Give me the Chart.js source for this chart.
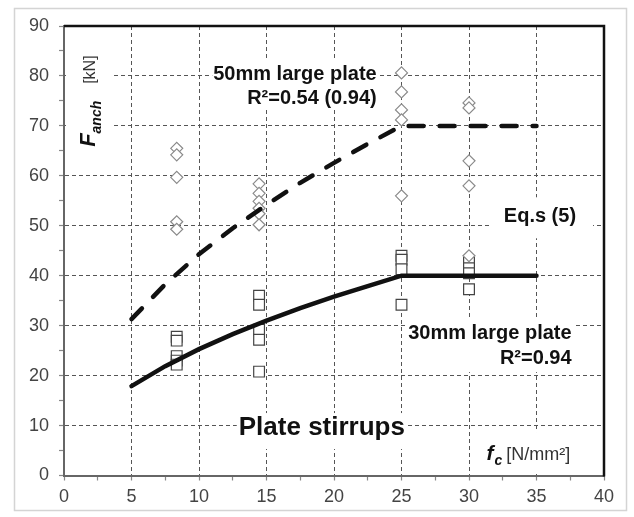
<!DOCTYPE html>
<html><head><meta charset="utf-8">
<script src="https://cdn.jsdelivr.net/npm/chart.js@4/dist/chart.umd.min.js"></script>
<style>html,body{margin:0;padding:0;background:#fff;}#wrap{width:634px;height:517px;}</style>
</head><body><div id="wrap"><canvas id="c" width="634" height="517"></canvas></div>
<script>
// ---- data ----
const plate50X = [8.35,8.35,8.35,8.35,8.35, 14.45,14.45,14.45,14.45,14.45,14.45, 25,25,25,25,25, 30,30,30,30,30];
const plate50F = [65.5,64.2,59.7,50.8,49.3, 58.4,56.5,54.9,53.5,52.4,50.2, 80.6,76.8,73.2,71.2,56.0, 74.6,73.6,63.0,58.0,44.0];
const plate30X = [8.35,8.35,8.35,8.35,8.35, 14.45,14.45,14.45,14.45,14.45, 25,25,25,25, 30,30,30,30];
const plate30F = [27.8,27.0,23.9,23.0,22.2, 36.0,34.2,29.2,27.2,20.8, 44.0,43.2,41.3,34.2, 42.6,41.5,40.5,37.3];
const eqX   = [5,7.5,10,12.5,15,17.5,20,22.5,25,35];
const eq50F = [31.3,38.3,44.3,49.5,54.2,58.6,62.6,66.4,70,70];
const eq30F = [17.9,21.9,25.3,28.3,31.0,33.5,35.8,37.9,40,40];
const xTickLabels = [0,5,10,15,20,25,30,35,40];
const yTickLabels = [0,10,20,30,40,50,60,70,80,90];

const FONT = "'Liberation Sans', Arial, Helvetica, sans-serif";
const pts = (xs, ys) => xs.map((v, i) => ({x: v, y: ys[i]}));

function box(ctx, x, y, w, h) { ctx.fillStyle = '#fff'; ctx.fillRect(x, y, w, h); }

const framePlugin = {
  id: 'frame',
  beforeDraw(chart) {
    const ctx = chart.ctx;
    ctx.save();
    ctx.fillStyle = '#fff';
    ctx.fillRect(0, 0, chart.width, chart.height);
    ctx.strokeStyle = '#d4d4d4';
    ctx.lineWidth = 1.5;
    ctx.strokeRect(14.5, 8.5, 612, 502);
    ctx.restore();
  },
  afterDraw(chart) {
    const {ctx, chartArea: a} = chart;
    ctx.save();
    ctx.strokeStyle = '#111';
    ctx.lineWidth = 2.5;
    ctx.beginPath();
    ctx.moveTo(a.left, a.top);
    ctx.lineTo(a.right, a.top);
    ctx.lineTo(a.right, a.bottom + 1);
    ctx.stroke();
    ctx.restore();
  }
};

const labelPlugin = {
  id: 'labels',
  beforeDatasetsDraw(chart) {
    const {ctx, scales: {x: xs, y: ys}} = chart;
    const X = v => xs.getPixelForValue(v), Y = v => ys.getPixelForValue(v);
    ctx.save();
    ctx.textBaseline = 'alphabetic';
    const bold20 = 'bold 20px ' + FONT;

    // right-aligned two-line block
    function block(lines, xv, pad) {
      ctx.font = bold20;
      let maxW = 0;
      lines.forEach(l => { l.w = ctx.measureText(l.t).width; maxW = Math.max(maxW, l.w); });
      const xr = X(xv);
      const y0 = Y(lines[0].y), y1 = Y(lines[lines.length - 1].y);
      box(ctx, xr - maxW - pad[3], y0 - pad[0], maxW + pad[1] + pad[3], y1 - y0 + pad[0] + pad[2]);
      ctx.fillStyle = '#111';
      ctx.textAlign = 'right';
      lines.forEach(l => ctx.fillText(l.t, xr, Y(l.y)));
    }
    block([{t: '50mm large plate', y: 79.1}, {t: 'R²=0.54 (0.94)', y: 74.4}], 23.16, [22, 1, 6, 1]);
    block([{t: 'Eq.s (5)', y: 50.7}], 37.93, [25, 17, 16, 12]);
    block([{t: '30mm large plate', y: 27.3}, {t: 'R²=0.94', y: 22.3}], 37.6, [21, 2, 8, 2]);

    // Plate stirrups
    ctx.font = 'bold 26px ' + FONT;
    ctx.textAlign = 'center';
    const ps = 'Plate stirrups', psw = ctx.measureText(ps).width;
    const px = X(19.1), py = Y(8.1);
    box(ctx, px - psw / 2 - 2, py - 22, psw + 4, 36);
    ctx.fillStyle = '#111';
    ctx.fillText(ps, px, py);

    // f_c [N/mm²]
    ctx.textAlign = 'left';
    const fx = X(31.3), fy = Y(3.1);
    box(ctx, fx - 7, fy - 28, 120, 42);
    ctx.fillStyle = '#111';
    ctx.font = 'bold italic 21px ' + FONT;
    ctx.fillText('f', fx, fy);
    let w = ctx.measureText('f').width;
    ctx.font = 'bold italic 14px ' + FONT;
    ctx.fillText('c', fx + w + 1, fy + 5);
    w += ctx.measureText('c').width + 5;
    ctx.fillStyle = '#333';
    ctx.font = '18px ' + FONT;
    ctx.fillText('[N/mm²]', fx + w, fy);

    // F_anch [kN], rotated
    const ax = X(2.3), ay = Y(65.8);
    box(ctx, X(0) + 2, Y(85), ax + 17 - X(0) - 2, Y(65) - Y(85));
    ctx.translate(ax, ay);
    ctx.rotate(-Math.PI / 2);
    ctx.fillStyle = '#111';
    ctx.font = 'bold italic 22px ' + FONT;
    ctx.fillText('F', 0, 0);
    const wF = ctx.measureText('F').width;
    ctx.font = 'bold italic 14px ' + FONT;
    ctx.fillText('anch', wF, 6);
    ctx.fillStyle = '#333';
    ctx.font = '16px ' + FONT;
    ctx.fillText('[kN]', 63, 0);
    ctx.restore();
  }
};

const gridCol = (labels, lo, hi) => c => {
  const v = c.tick && c.tick.value;
  return (labels.includes(v) && v > lo && v < hi) ? '#555' : 'rgba(0,0,0,0)';
};

new Chart(document.getElementById('c'), {
  type: 'scatter',
  data: {
    datasets: [
      {data: pts(eqX, eq50F), showLine: true, pointRadius: 0, borderColor: '#111', borderWidth: 4.5,
       borderDash: [15, 16], borderCapStyle: 'round', tension: 0, order: 0},
      {data: pts(eqX, eq30F), showLine: true, pointRadius: 0, borderColor: '#111', borderWidth: 4.5,
       borderCapStyle: 'round', tension: 0, order: 0},
      {data: pts(plate50X, plate50F), pointStyle: 'rectRot', pointRadius: 6, backgroundColor: '#fff',
       borderColor: '#8a8a8a', borderWidth: 1.2, order: 1},
      {data: pts(plate30X, plate30F), pointStyle: 'rect', pointRadius: 7.6, backgroundColor: '#fff',
       borderColor: '#444', borderWidth: 1.2, order: 1}
    ]
  },
  options: {
    responsive: false,
    animation: false,
    events: [],
    layout: {padding: {left: 0, right: 30, top: 26, bottom: 0}},
    plugins: {legend: {display: false}, tooltip: {enabled: false}},
    scales: {
      x: {
        type: 'linear', min: 0, max: 40,
        afterBuildTicks: s => { const t = []; for (let v = 0; v <= 40; v += 2.5) t.push({value: v}); s.ticks = t; },
        afterFit: s => { s.height = 41.5; },
        ticks: {autoSkip: false, maxRotation: 0, padding: 6, color: '#444', font: {family: FONT, size: 18},
                callback: v => xTickLabels.includes(v) ? String(v) : ''},
        grid: {color: gridCol(xTickLabels, 0, 40), lineWidth: 1, tickColor: '#888', tickLength: 5, tickWidth: 1.2},
        border: {color: '#666', width: 2, dash: [4, 3]}
      },
      y: {
        type: 'linear', min: 0, max: 90,
        afterBuildTicks: s => { const t = []; for (let v = 0; v <= 90; v += 5) t.push({value: v}); s.ticks = t; },
        afterFit: s => { s.width = 64; },
        ticks: {autoSkip: false, padding: 10, color: '#444', font: {family: FONT, size: 18},
                callback: v => yTickLabels.includes(v) ? String(v) : ''},
        grid: {color: gridCol(yTickLabels, 0, 90), lineWidth: 1, tickColor: '#888', tickLength: 5, tickWidth: 1.2},
        border: {color: '#666', width: 2, dash: [4, 3]}
      }
    }
  },
  plugins: [framePlugin, labelPlugin]
});
</script></body></html>
